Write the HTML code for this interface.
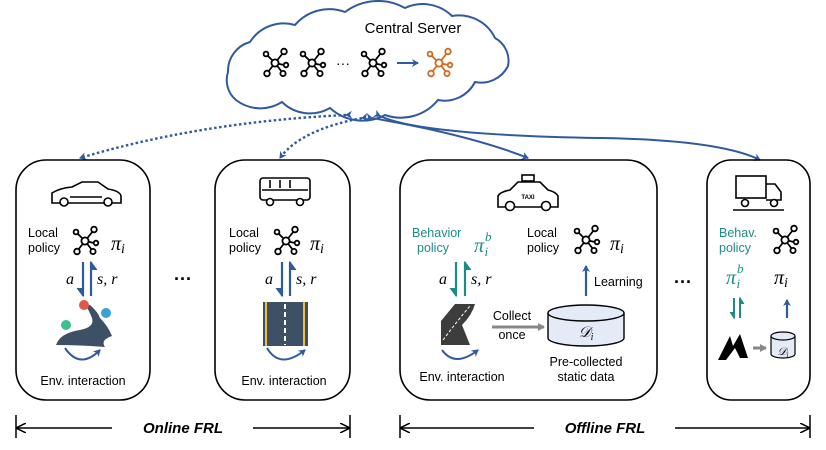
<!DOCTYPE html>
<html><head><meta charset="utf-8"><style>
html,body{margin:0;padding:0;background:#fff}
svg{display:block}
text{font-family:"Liberation Sans",sans-serif}
.m{font-family:"Liberation Serif",serif;font-style:italic}
</style></head><body>
<svg width="826" height="450" viewBox="0 0 826 450" xmlns="http://www.w3.org/2000/svg">
<defs>
<g id="net" fill="none" stroke-width="1.8">
<line x1="0" y1="0" x2="-8" y2="-8"/><line x1="0" y1="0" x2="8" y2="-10"/><line x1="0" y1="0" x2="9" y2="2"/><line x1="0" y1="0" x2="7" y2="9"/><line x1="0" y1="0" x2="-7" y2="9"/>
<circle cx="0" cy="0" r="3.6" fill="#fff"/><circle cx="-9" cy="-9" r="2.4" fill="#fff"/><circle cx="9" cy="-11.5" r="2.8" fill="#fff"/><circle cx="11" cy="2" r="2.3" fill="#fff"/><circle cx="8" cy="10.5" r="2.6" fill="#fff"/><circle cx="-8" cy="10.5" r="2.8" fill="#fff"/>
</g>
<marker id="ab" markerWidth="8" markerHeight="8" refX="6" refY="4" orient="auto" markerUnits="userSpaceOnUse"><path d="M0,0 L7,4 L0,8 L2,4z" fill="#2f5aa0"/></marker>
<marker id="ak" markerWidth="10" markerHeight="10" refX="9" refY="5" orient="auto" markerUnits="userSpaceOnUse"><path d="M0,0 L10,5 L0,10" fill="none" stroke="#000" stroke-width="1.5"/></marker>
<marker id="ag" markerWidth="8" markerHeight="8" refX="6" refY="4" orient="auto" markerUnits="userSpaceOnUse"><path d="M0,0 L7,4 L0,8z" fill="#888"/></marker>
</defs>

<!-- cloud -->
<path d="M236,100 A26,26 0 0 1 228,72 A30,30 0 0 1 250,42 A40,40 0 0 1 295,25 A45,45 0 0 1 345,12 A55,55 0 0 1 405,8 A42,42 0 0 1 452,16 A40,40 0 0 1 495,38 A26,26 0 0 1 508,66 A30,30 0 0 1 475,82 A34,34 0 0 1 438,100 A48,48 0 0 1 385,115 A48,48 0 0 1 330,108 A40,40 0 0 1 282,102 A40,40 0 0 1 236,100 Z" fill="#fff" stroke="#2f5aa0" stroke-width="2"/>
<text x="413" y="33" font-size="15" text-anchor="middle">Central Server</text>
<use href="#net" x="275" y="63" stroke="#000"/>
<use href="#net" x="312" y="63" stroke="#000"/>
<text x="343" y="68" font-size="14" text-anchor="middle">···</text>
<use href="#net" x="373" y="63" stroke="#000"/>
<line x1="397" y1="63" x2="418" y2="63" stroke="#2f5aa0" stroke-width="2" marker-end="url(#ab)"/>
<use href="#net" x="439" y="63" stroke="#d2691e"/>

<!-- connectors -->
<path d="M346,115 Q200,122 80,158" fill="none" stroke="#2f5aa0" stroke-width="2.4" stroke-dasharray="2.5,2.5" marker-start="url(#ab)" marker-end="url(#ab)"/>
<path d="M362,118 Q300,130 280,158" fill="none" stroke="#2f5aa0" stroke-width="2.4" stroke-dasharray="2.5,2.5" marker-start="url(#ab)" marker-end="url(#ab)"/>
<path d="M372,118 Q470,135 528,158" fill="none" stroke="#2f5aa0" stroke-width="2" marker-start="url(#ab)" marker-end="url(#ab)"/>
<path d="M380,116 Q420,135 600,138 Q720,140 760,160" fill="none" stroke="#2f5aa0" stroke-width="2" marker-start="url(#ab)" marker-end="url(#ab)"/>

<!-- boxes -->
<g fill="none" stroke="#000" stroke-width="1.6">
<rect x="16" y="160" width="134" height="240" rx="30"/>
<rect x="215" y="160" width="135" height="240" rx="30"/>
<rect x="400" y="160" width="257" height="240" rx="30"/>
<rect x="707" y="160" width="103" height="240" rx="24"/>
</g>

<!-- box1 -->
<g fill="none" stroke="#000" stroke-width="1.6">
<path d="M52,203 L52,193 Q60,188 72,187 L82,182 L98,182 L108,189 Q120,191 121,196 L121,203 Z"/>
<circle cx="64" cy="202" r="4" fill="#fff"/><circle cx="108" cy="202" r="4" fill="#fff"/>
<line x1="70" y1="197" x2="102" y2="197"/>
</g>
<text x="28" y="237" font-size="12.5">Local</text><text x="28" y="252" font-size="12.5">policy</text>
<use href="#net" x="85" y="241" stroke="#000"/>
<text x="111" y="250" class="m" font-size="20">π<tspan font-size="14" dy="3">i</tspan></text>
<line x1="83" y1="262" x2="83" y2="296" stroke="#2f5aa0" stroke-width="2.2"/><path d="M77,288 L83,296 L83,288" fill="#2f5aa0" stroke="#2f5aa0"/>
<line x1="91" y1="296" x2="91" y2="262" stroke="#2f5aa0" stroke-width="2.2"/><path d="M97,270 L91,262 L91,270" fill="#2f5aa0" stroke="#2f5aa0"/>
<text x="66" y="284" class="m" font-size="16">a</text><text x="97" y="284" class="m" font-size="16">s, r</text>
<path d="M56,345 Q60,333 80,330 Q95,327 92,318 Q88,308 85,305 L90,305 Q98,312 100,318 Q108,326 112,336 Q100,340 105,347 Q80,345 56,345Z" fill="#3d5066"/>
<circle cx="84" cy="305" r="5" fill="#e05a4a"/><circle cx="106" cy="313" r="5" fill="#3aa0d8"/><circle cx="66" cy="325" r="5" fill="#3dbf90"/>
<path d="M65,348 Q80,370 100,350" fill="none" stroke="#2f5aa0" stroke-width="2" marker-end="url(#ab)"/>
<text x="83" y="385" font-size="12.5" text-anchor="middle">Env. interaction</text>

<text x="183" y="285" font-size="18" font-weight="bold" text-anchor="middle">···</text>

<!-- box2 -->
<g fill="none" stroke="#000" stroke-width="1.6">
<rect x="260" y="178" width="50" height="22" rx="3"/><line x1="262" y1="190" x2="308" y2="190"/>
<line x1="270" y1="180" x2="270" y2="188"/><line x1="280" y1="180" x2="280" y2="188"/><line x1="290" y1="180" x2="290" y2="188"/>
<circle cx="270" cy="202" r="3.5" fill="#fff"/><circle cx="300" cy="202" r="3.5" fill="#fff"/>
</g>
<text x="229" y="237" font-size="12.5">Local</text><text x="229" y="252" font-size="12.5">policy</text>
<use href="#net" x="286" y="241" stroke="#000"/>
<text x="310" y="250" class="m" font-size="20">π<tspan font-size="14" dy="3">i</tspan></text>
<line x1="282" y1="262" x2="282" y2="296" stroke="#2f5aa0" stroke-width="2.2"/><path d="M276,288 L282,296 L282,288" fill="#2f5aa0" stroke="#2f5aa0"/>
<line x1="290" y1="296" x2="290" y2="262" stroke="#2f5aa0" stroke-width="2.2"/><path d="M296,270 L290,262 L290,270" fill="#2f5aa0" stroke="#2f5aa0"/>
<text x="265" y="284" class="m" font-size="16">a</text><text x="296" y="284" class="m" font-size="16">s, r</text>
<rect x="263" y="302" width="45" height="44" fill="#3d5066"/>
<line x1="266" y1="302" x2="266" y2="346" stroke="#f2c12e" stroke-width="2"/><line x1="304" y1="302" x2="304" y2="346" stroke="#f2c12e" stroke-width="2"/>
<line x1="285" y1="304" x2="285" y2="345" stroke="#fff" stroke-width="2" stroke-dasharray="5,3"/>
<path d="M267,348 Q280,370 305,350" fill="none" stroke="#2f5aa0" stroke-width="2" marker-end="url(#ab)"/>
<text x="284" y="385" font-size="12.5" text-anchor="middle">Env. interaction</text>

<!-- box3 -->
<g fill="none" stroke="#000" stroke-width="1.6">
<path d="M498,207 L498,196 Q500,192 510,190 L518,182 L540,182 L548,190 Q556,192 558,196 L558,207Z"/>
<rect x="522" y="175" width="12" height="6"/>
<circle cx="510" cy="206" r="4.5" fill="#fff"/><circle cx="546" cy="206" r="4.5" fill="#fff"/>
</g>
<text x="528" y="199" font-size="6" font-weight="bold" text-anchor="middle">TAXI</text>
<text x="412" y="237" font-size="12.5" fill="#1b8c86">Behavior</text><text x="417" y="252" font-size="12.5" fill="#1b8c86">policy</text>
<text x="474" y="252" class="m" font-size="20" fill="#1b8c86">π<tspan font-size="13" dy="-11" dx="1">b</tspan><tspan font-size="13" dy="15" dx="-7">i</tspan></text>
<line x1="456" y1="262" x2="456" y2="296" stroke="#1b8c86" stroke-width="2.2"/><path d="M450,288 L456,296 L456,288" fill="#1b8c86" stroke="#1b8c86"/>
<line x1="465" y1="296" x2="465" y2="262" stroke="#1b8c86" stroke-width="2.2"/><path d="M471,270 L465,262 L465,270" fill="#1b8c86" stroke="#1b8c86"/>
<text x="439" y="284" class="m" font-size="16">a</text><text x="471" y="284" class="m" font-size="16">s, r</text>
<text x="527" y="237" font-size="12.5">Local</text><text x="527" y="252" font-size="12.5">policy</text>
<use href="#net" x="586" y="240" stroke="#000"/>
<text x="610" y="250" class="m" font-size="20">π<tspan font-size="14" dy="3">i</tspan></text>
<line x1="586" y1="296" x2="586" y2="266" stroke="#2f5aa0" stroke-width="2.2" marker-end="url(#ab)"/>
<text x="594" y="286" font-size="12.5">Learning</text>
<path d="M441,321 L455,304 L475,304 Q472,315 462,325 L470,345 L441,345 Z" fill="#3d3d3d"/>
<path d="M443,340 Q458,320 470,306" fill="none" stroke="#fff" stroke-dasharray="3,2"/>
<path d="M442,350 Q455,368 478,350" fill="none" stroke="#2f5aa0" stroke-width="2" marker-end="url(#ab)"/>
<text x="462" y="381" font-size="12.5" text-anchor="middle">Env. interaction</text>
<text x="512" y="320" font-size="12.5" text-anchor="middle">Collect</text><text x="512" y="339" font-size="12.5" text-anchor="middle">once</text>
<line x1="492" y1="327" x2="544" y2="327" stroke="#888" stroke-width="3" marker-end="url(#ag)"/>
<path d="M548,313 L548,338 A38,8 0 0 0 624,338 L624,313" fill="#e4eaf6" stroke="#000" stroke-width="1.4"/>
<ellipse cx="586" cy="313" rx="38" ry="8" fill="#e4eaf6" stroke="#000" stroke-width="1.4"/>
<text x="586" y="337" class="m" font-size="15" text-anchor="middle">𝒟<tspan font-size="10" dy="3">i</tspan></text>
<text x="586" y="366" font-size="12.5" text-anchor="middle">Pre-collected</text><text x="586" y="381" font-size="12.5" text-anchor="middle">static data</text>

<text x="683" y="288" font-size="18" font-weight="bold" text-anchor="middle">···</text>

<!-- box4 -->
<g fill="none" stroke="#000" stroke-width="1.6">
<rect x="736" y="176" width="30" height="22"/><path d="M766,184 L775,184 L781,192 L781,200 L766,200"/>
<circle cx="745" cy="203" r="3.5" fill="#fff"/><circle cx="774" cy="203" r="3.5" fill="#fff"/>
<line x1="733" y1="210" x2="784" y2="210"/>
</g>
<text x="719" y="237" font-size="12.5" fill="#1b8c86">Behav.</text><text x="719" y="252" font-size="12.5" fill="#1b8c86">policy</text>
<use href="#net" x="785" y="240" stroke="#000"/>
<text x="726" y="284" class="m" font-size="20" fill="#1b8c86">π<tspan font-size="13" dy="-11" dx="1">b</tspan><tspan font-size="13" dy="15" dx="-7">i</tspan></text>
<text x="774" y="284" class="m" font-size="20">π<tspan font-size="14" dy="3">i</tspan></text>
<line x1="734" y1="298" x2="734" y2="318" stroke="#1b8c86" stroke-width="2"/><path d="M730,312 L734,318 L734,312" fill="#1b8c86" stroke="#1b8c86"/>
<line x1="740" y1="318" x2="740" y2="298" stroke="#1b8c86" stroke-width="2"/><path d="M744,304 L740,298 L740,304" fill="#1b8c86" stroke="#1b8c86"/>
<line x1="787" y1="318" x2="787" y2="300" stroke="#2f5aa0" stroke-width="2.2" marker-end="url(#ab)"/>
<path d="M718,360 L730,336 L733,346 L740,334 L748,358 L740,358 L735,348 L726,360Z" fill="#000"/>
<line x1="753" y1="348" x2="766" y2="348" stroke="#888" stroke-width="3" marker-end="url(#ag)"/>
<path d="M771,336 L771,354 A12,4 0 0 0 795,354 L795,336" fill="#e4eaf6" stroke="#000" stroke-width="1.2"/>
<ellipse cx="783" cy="336" rx="12" ry="4" fill="#e4eaf6" stroke="#000" stroke-width="1.2"/>
<text x="783" y="355" class="m" font-size="11" text-anchor="middle">𝒟<tspan font-size="7" dy="2">i</tspan></text>

<!-- brackets -->
<g stroke="#000" stroke-width="1.5" fill="none">
<line x1="16" y1="415" x2="16" y2="438"/><line x1="350" y1="415" x2="350" y2="438"/>
<line x1="112" y1="428" x2="17" y2="428" marker-end="url(#ak)"/><line x1="253" y1="428" x2="349" y2="428" marker-end="url(#ak)"/>
<line x1="400" y1="415" x2="400" y2="438"/><line x1="810" y1="415" x2="810" y2="438"/>
<line x1="534" y1="428" x2="401" y2="428" marker-end="url(#ak)"/><line x1="675" y1="428" x2="809" y2="428" marker-end="url(#ak)"/>
</g>
<text x="183" y="433" font-size="15" font-weight="bold" font-style="italic" text-anchor="middle">Online FRL</text>
<text x="605" y="433" font-size="15" font-weight="bold" font-style="italic" text-anchor="middle">Offline FRL</text>
</svg>
</body></html>
